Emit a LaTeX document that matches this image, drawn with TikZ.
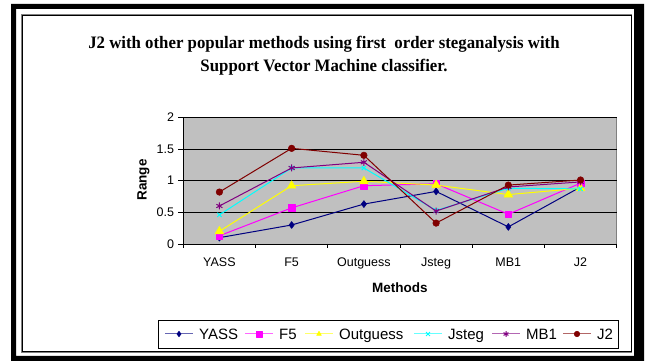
\documentclass[tikz,border=0pt]{standalone}
\usepackage{fontspec}
\setmainfont{Liberation Serif}
\setsansfont{Liberation Sans}
\newfontfamily\titlefont[FakeStretch=0.96]{Liberation Serif}
\usetikzlibrary{plotmarks}

\definecolor{yasscol}{RGB}{0,0,128}
\definecolor{ffcol}{RGB}{255,0,255}
\definecolor{outcol}{RGB}{255,255,0}
\definecolor{jstegcol}{RGB}{0,255,255}
\definecolor{mbcol}{RGB}{128,0,128}
\definecolor{jtwocol}{RGB}{128,0,0}
\definecolor{plotgray}{RGB}{192,192,192}

\tikzset{
  series/.style={line width=1pt, line join=round},
  yassplot/.style={series, draw=yasscol, mark=diamond*, mark size=3.5pt,
    mark options={fill=yasscol, draw=yasscol, line width=0.5pt}},
  ffplot/.style={series, draw=ffcol, mark=square*, mark size=3.2pt,
    mark options={fill=ffcol, draw=ffcol, line width=0.5pt}},
  outplot/.style={series, draw=outcol, mark=triangle*, mark size=5pt,
    mark options={fill=outcol, draw=outcol, line width=0.5pt}},
  jstegplot/.style={series, draw=jstegcol, mark=x, mark size=3pt,
    mark options={draw=jstegcol, line width=1pt}},
  mbplot/.style={series, draw=mbcol, mark=asterisk, mark size=3.5pt,
    mark options={draw=mbcol, line width=1pt}},
  jtwoplot/.style={series, draw=jtwocol, mark=*, mark size=3.3pt,
    mark options={fill=jtwocol, draw=jtwocol, line width=0.5pt}},
  titlestyle/.style={inner sep=0pt, font=\titlefont\bfseries\fontsize{17.5}{20}\selectfont},
  ticklabel/.style={inner sep=0pt, font=\sffamily\fontsize{12.5}{14}\selectfont},
  axislabel/.style={inner sep=0pt, font=\sffamily\bfseries\fontsize{13.5}{15}\selectfont},
  legendlabel/.style={inner sep=0pt, font=\sffamily\fontsize{15}{17}\selectfont},
}

\begin{document}
\begin{tikzpicture}[x=1pt, y=1pt]
  \useasboundingbox (0,0) rectangle (646,361);

  % frame
  \fill [black, even odd rule] (11,0) rectangle (644,357) (16,5) rectangle (634,352);
  \draw [gray, line width=0.8pt] (21.4,8.4) rectangle (631.8,346.8);
  \draw [black, line width=0.9pt] (22.2,9.2) rectangle (631,346);

  \node (title1) at (324,312) [titlestyle, anchor=base]
    {J2 with other popular methods using first\ \ order steganalysis with};
  \node (title2) at (324,289.3) [titlestyle, anchor=base]
    {Support Vector Machine classifier.};

  \node (ytitle) at (143.5,181) [axislabel, rotate=90] {Range};

  \begin{scope}[shift={(183.3,117)}, x=72.23pt, y=63.35pt]
    \fill [plotgray] (0,0) rectangle (6,2);
    \draw [gray, line width=0.8pt] (6,0) -- (6,2);
    \foreach \v in {0.5,1,1.5,2}
      \draw [black, line width=0.8pt] (0,\v) -- (6,\v);

    % axes
    \draw [line width=0.8pt] (0,2) -- (0,0) -- (6,0);
    \foreach \v [count=\i] in {0,0.5,1,1.5,2} {
      \draw [line width=0.8pt] (0,\v) -- ++(-5pt,0);
      \node (ytick\i) at (0,\v) [ticklabel, anchor=east, xshift=-9pt] {\v};
    }
    \foreach \k in {0,...,6}
      \draw [line width=0.8pt] (\k,0) -- ++(0,-4pt);
    \foreach \c [count=\i] in {YASS,F5,Outguess,Jsteg,MB1,J2}
      \node (cat\i) at (\i-0.5,0) [ticklabel, anchor=base, yshift=-22.7pt] {\c};

    \node (xtitle) at (3,0) [axislabel, anchor=base, yshift=-48.3pt] {Methods};

    % series
    \draw [yassplot] plot coordinates
      {(0.5,0.1) (1.5,0.3) (2.5,0.63) (3.5,0.83) (4.5,0.27) (5.5,0.9)};
    \draw [ffplot] plot coordinates
      {(0.5,0.13) (1.5,0.57) (2.5,0.92) (3.5,0.95) (4.5,0.47) (5.5,0.96)};
    \draw [outplot] plot coordinates
      {(0.5,0.2) (1.5,0.92) (2.5,0.99) (3.5,0.93) (4.5,0.78) (5.5,0.88)};
    \draw [jstegplot] plot coordinates
      {(0.5,0.46) (1.5,1.2) (2.5,1.2) (3.5,0.53) (4.5,0.88) (5.5,0.87)};
    \draw [mbplot] plot coordinates
      {(0.5,0.6) (1.5,1.2) (2.5,1.29) (3.5,0.52) (4.5,0.9) (5.5,0.98)};
    \draw [jtwoplot] plot coordinates
      {(0.5,0.82) (1.5,1.51) (2.5,1.4) (3.5,0.33) (4.5,0.93) (5.5,1.01)};
  \end{scope}

  % legend
  \draw [black, line width=0.8pt] (158.3,12.7) rectangle (618.3,41);
  \foreach \xs/\st/\name [count=\i] in {165/yassplot/YASS, 245/ffplot/F5,
      305/outplot/Outguess, 414/jstegplot/Jsteg, 492/mbplot/MB1, 563/jtwoplot/J2} {
    \draw [\st, opacity=0.6] (\xs,27) -- ++(28,0);
    \draw [\st, mark size=2.8pt] plot coordinates {(\xs+14,27)};
    \node (leg\i) at (\xs+34,21.7) [legendlabel, anchor=base west] {\name};
  }
\end{tikzpicture}
\end{document}
